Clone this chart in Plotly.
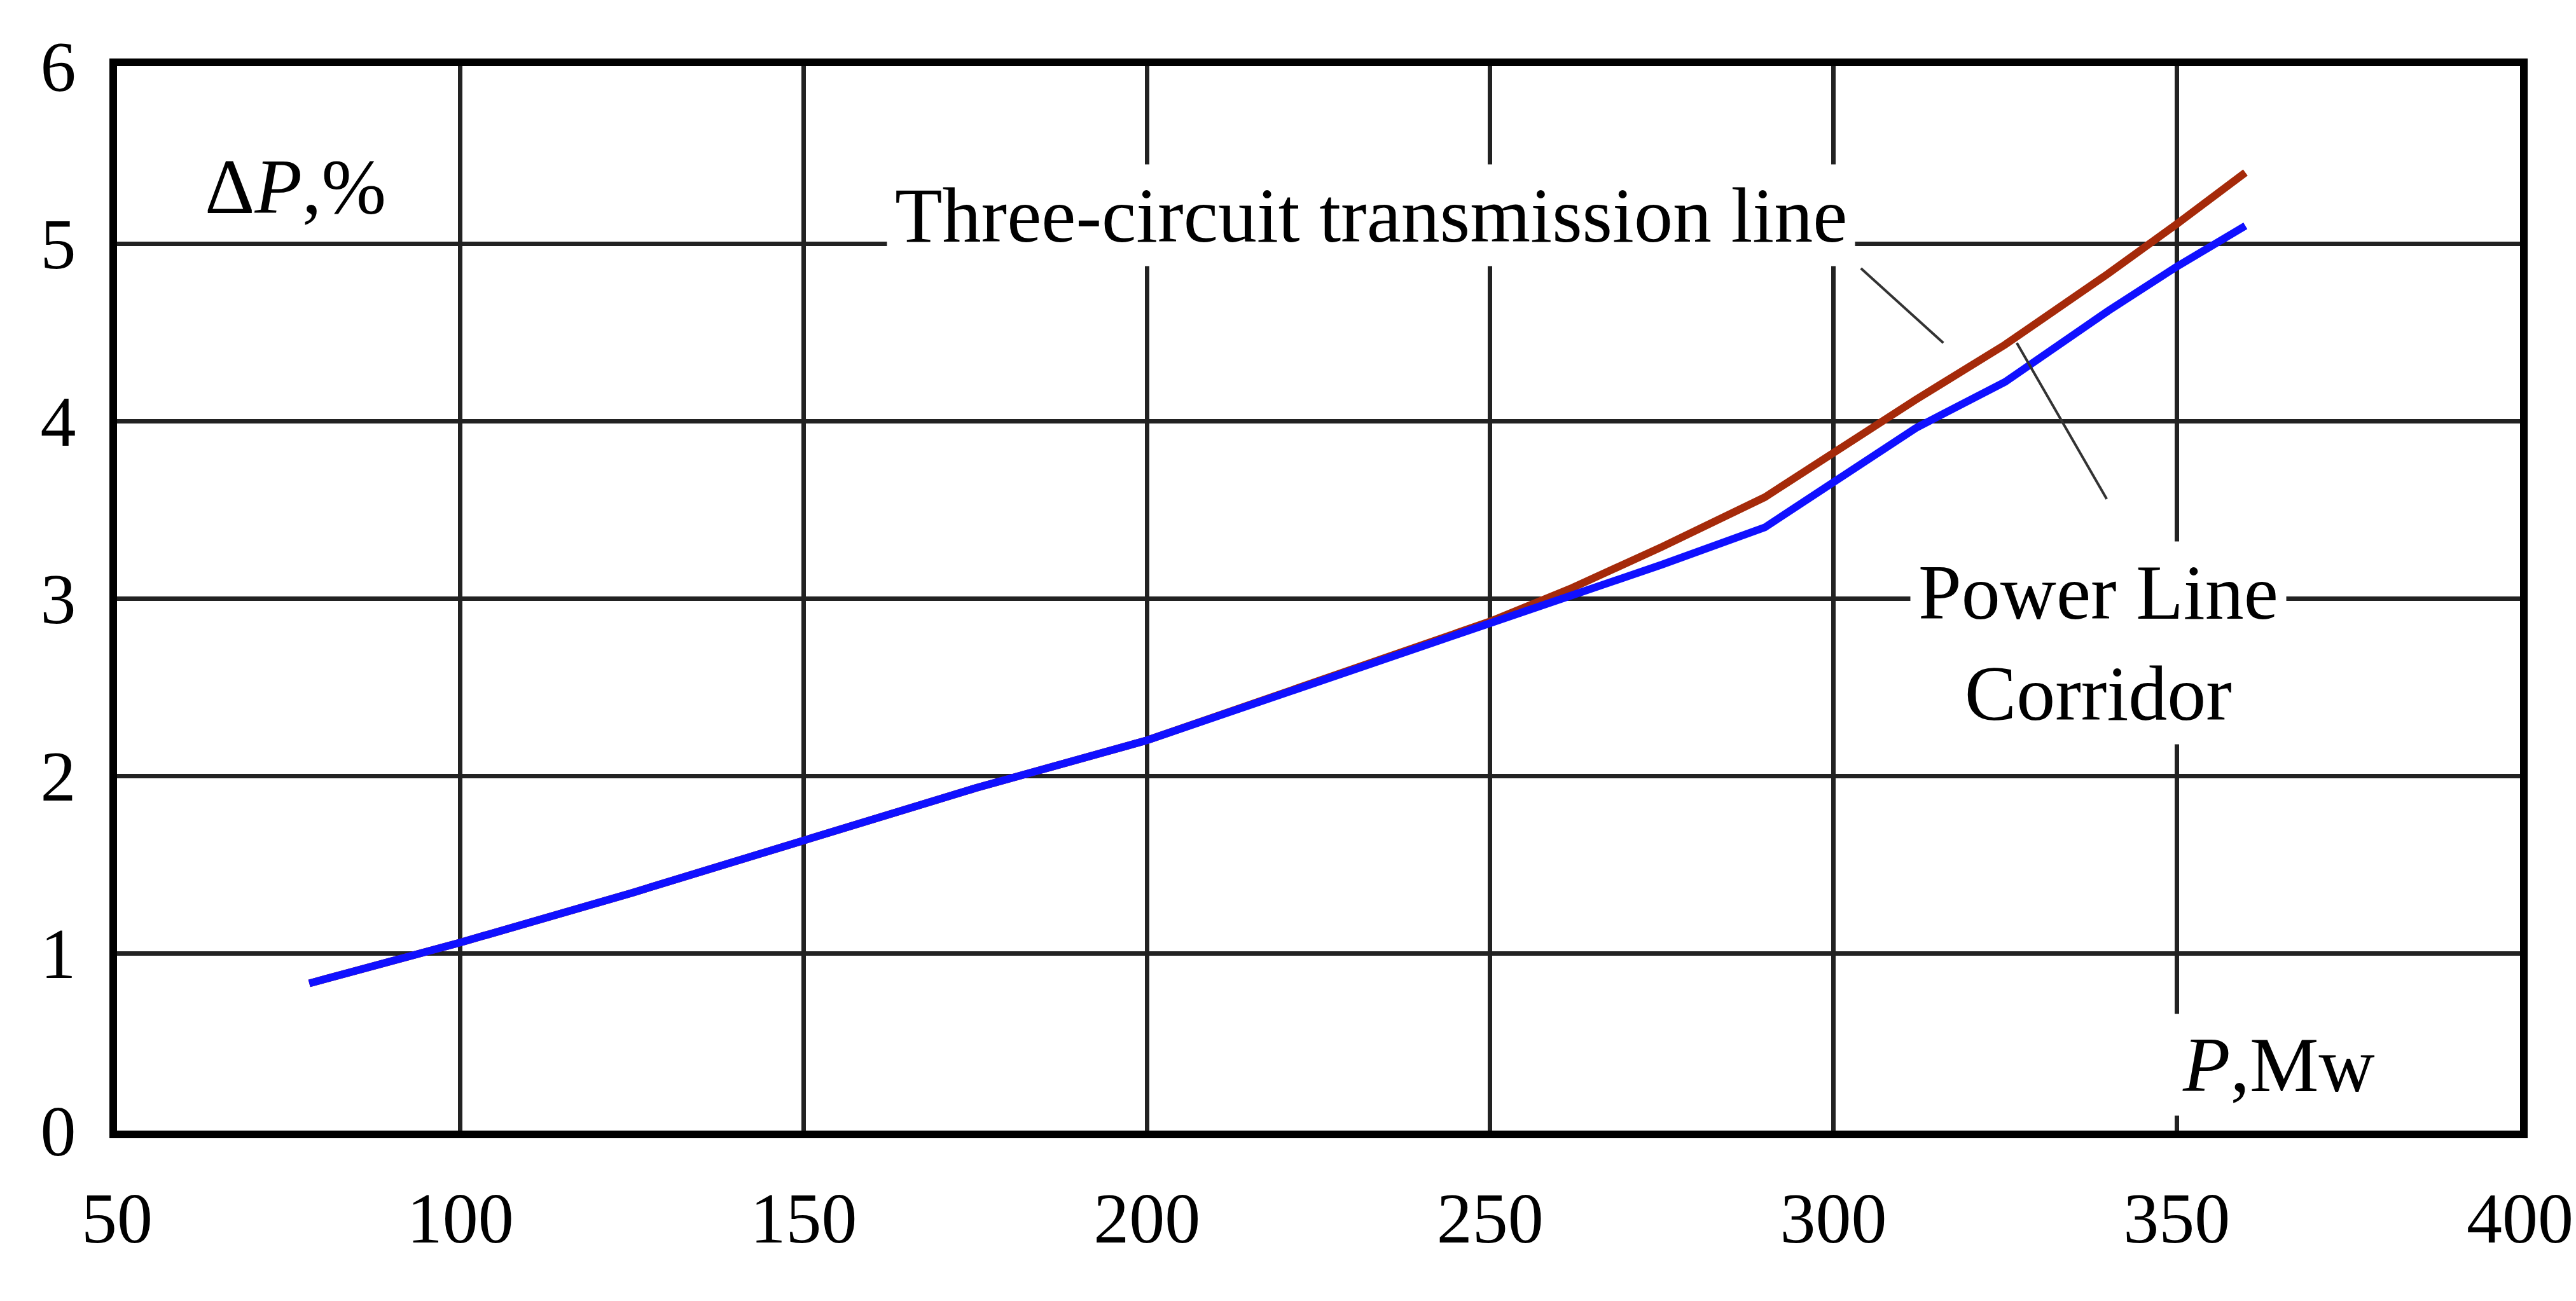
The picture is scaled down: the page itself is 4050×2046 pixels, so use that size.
import plotly.graph_objects as go

# Data
p_blue = [78, 100, 125, 150, 175, 200, 225, 250, 262, 275, 290, 300, 312, 325, 340, 350, 360]
dp_blue = [0.83, 1.06, 1.34, 1.64, 1.93, 2.20, 2.53, 2.86, 3.02, 3.19, 3.40, 3.66, 3.96, 4.22, 4.62, 4.87, 5.10]
p_brown = [78, 100, 125, 150, 175, 200, 225, 250, 262, 275, 290, 300, 312, 325, 340, 350, 360]
dp_brown = [0.83, 1.06, 1.34, 1.64, 1.93, 2.20, 2.53, 2.87, 3.06, 3.29, 3.57, 3.82, 4.12, 4.43, 4.83, 5.11, 5.40]

x_ticks = [50, 100, 150, 200, 250, 300, 350, 400]
y_ticks = [0, 1, 2, 3, 4, 5, 6]

FONT = "Liberation Serif"
LABEL_SIZE = 122

fig = go.Figure()
fig.add_trace(go.Scatter(x=p_brown, y=dp_brown, mode="lines",
                         line=dict(color="#a52a0a", width=12),
                         name="Three-circuit transmission line"))
fig.add_trace(go.Scatter(x=p_blue, y=dp_blue, mode="lines",
                         line=dict(color="#1010ff", width=12),
                         name="Power Line Corridor"))

# leader lines
for x0, y0, x1, y1 in [(304, 4.86, 316, 4.44), (326.7, 4.44, 339.8, 3.56)]:
    fig.add_shape(type="line", x0=x0, y0=y0, x1=x1, y1=y1,
                  line=dict(color="#333", width=4))

def label(text, x, y):
    fig.add_annotation(text=text, x=x, y=y, showarrow=False, bgcolor="white",
                       font=dict(family=FONT, size=LABEL_SIZE, color="black"),
                       borderpad=12)

label("Δ<i>P</i>,%", 76, 5.32)
label("Three-circuit transmission line", 232.6, 5.16)
label("Power Line<br>Corridor", 338.6, 2.75)
label("<i>P</i>,Mw", 364.8, 0.37)

axis_common = dict(showgrid=True, gridcolor="#222", gridwidth=7,
                   showline=True, linecolor="black", linewidth=12, mirror=True,
                   zeroline=False, ticks="",
                   tickfont=dict(family=FONT, size=112, color="black"))
fig.update_xaxes(range=[50, 400], tickvals=x_ticks, ticklabelstandoff=30, **axis_common)
fig.update_yaxes(range=[0, 6], tickvals=y_ticks, ticklabelstandoff=30, **axis_common)

fig.update_layout(width=4050, height=2046, showlegend=False,
                  plot_bgcolor="white", paper_bgcolor="white",
                  margin=dict(l=176, r=85, t=96, b=276))

fig.write_html("out.html")
